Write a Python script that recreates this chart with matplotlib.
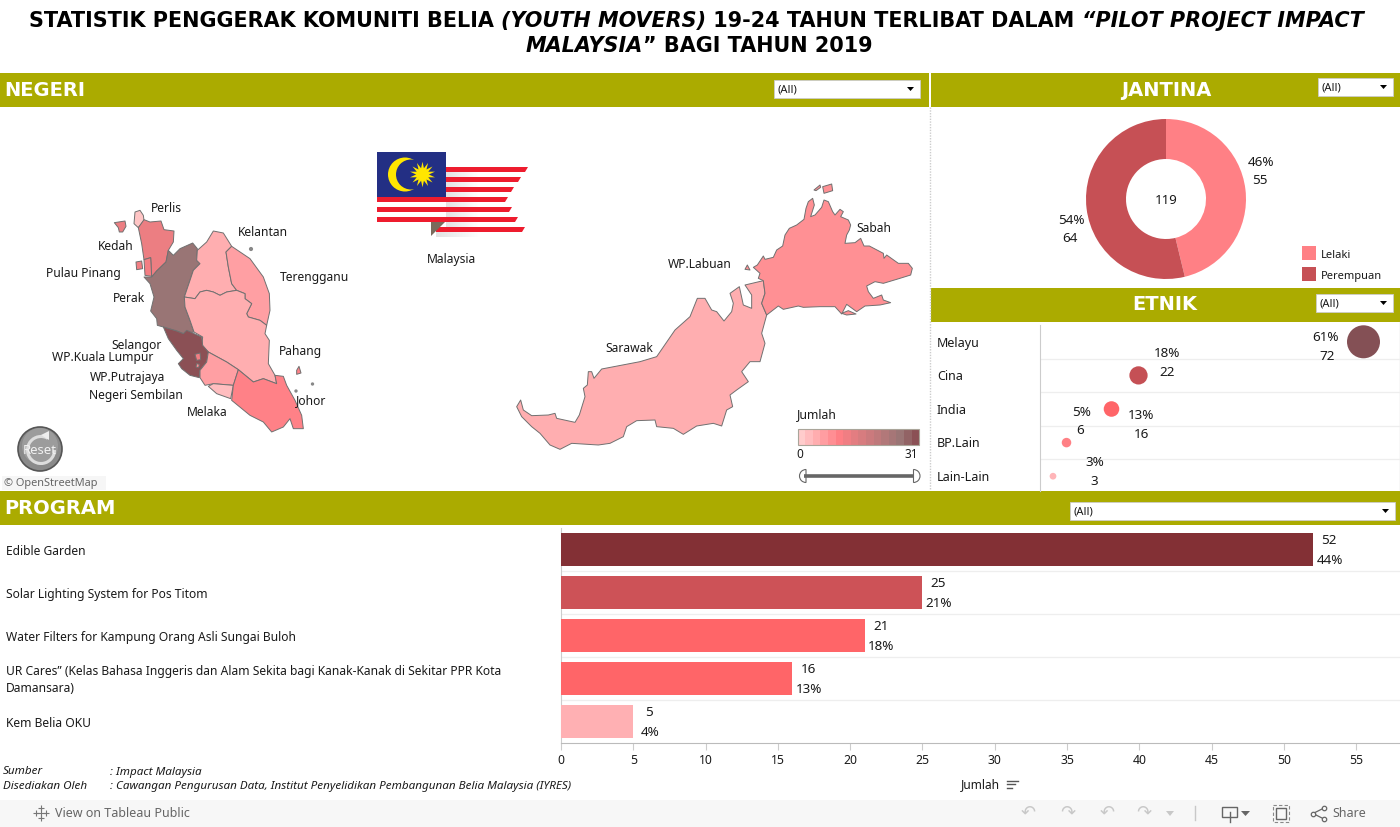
import numpy as np
import matplotlib
matplotlib.use('Agg')
import matplotlib.pyplot as plt
from matplotlib.colors import LinearSegmentedColormap
from matplotlib.patches import Rectangle, Polygon, Circle, Wedge, Arc

# --- data ---
PROGRAMS = ['Edible Garden', 'Solar Lighting System for Pos Titom',
            'Water Filters for Kampung Orang Asli Sungai Buloh',
            'UR Cares” (Kelas Bahasa Inggeris dan Alam Sekita bagi Kanak-Kanak di Sekitar PPR Kota\nDamansara)',
            'Kem Belia OKU']
PROGRAM_COUNTS = [52, 25, 21, 16, 5]
PROGRAM_PCT = ['44%', '21%', '18%', '13%', '4%']

ETHNIC = ['Melayu', 'Cina', 'India', 'BP.Lain', 'Lain-Lain']
ETHNIC_COUNTS = [72, 22, 16, 6, 3]
ETHNIC_PCT = ['61%', '18%', '13%', '5%', '3%']

GENDER = ['Lelaki', 'Perempuan']
GENDER_COUNTS = [55, 64]
GENDER_PCT = ['46%', '54%']

# state totals estimated from the map shading
STATE_VALUES = {'Perlis': 1, 'Kedah': 13, 'Pulau Pinang': 12, 'Perak': 27, 'Kelantan': 4,
                'Terengganu': 6, 'Pahang': 4, 'Selangor': 31, 'Kuala Lumpur': 12,
                'Putrajaya': 8, 'Negeri Sembilan': 6, 'Melaka': 2, 'Johor': 10,
                'Sabah': 8, 'Sarawak': 4}

PENINSULA = {
    'Perlis': [[(405, 315), (420, 310), (430, 325), (432, 340), (415, 362), (402, 350)]],
    'Kedah': [[(415, 362), (432, 338), (450, 345), (483, 342), (492, 368), (522, 372), (520, 405), (505, 430),
               (498, 465), (470, 492), (455, 510), (452, 452), (432, 458), (425, 410)],
              [(343, 347), (375, 342), (378, 358), (368, 375), (358, 375), (355, 362)]],
    'Pulau Pinang': [[(432, 458), (452, 452), (455, 508), (435, 505)],
                     [(408, 465), (425, 462), (428, 485), (410, 488)]],
    'Perak': [[(505, 430), (520, 445), (540, 425), (578, 408), (592, 425), (590, 460), (600, 470), (580, 490),
               (570, 520), (553, 570), (555, 600), (570, 640), (582, 675), (550, 680), (530, 672), (490, 660),
               (472, 655), (470, 635), (452, 612), (462, 570), (450, 530), (432, 510), (455, 510), (470, 492),
               (498, 465)]],
    'Kelantan': [[(592, 430), (620, 405), (640, 372), (670, 378), (695, 418), (678, 435), (685, 480), (695, 530),
                  (710, 550), (680, 555), (660, 565), (640, 555), (620, 550), (600, 555), (585, 575), (553, 570),
                  (570, 520), (580, 490), (600, 470), (590, 460)]],
    'Terengganu': [[(695, 418), (750, 455), (790, 510), (808, 560), (810, 610), (800, 655), (780, 640), (745, 630),
                    (740, 620), (755, 590), (735, 575), (735, 560), (710, 550), (695, 530), (685, 480), (678, 435)]],
    'Pahang': [[(553, 570), (585, 575), (600, 555), (620, 550), (640, 555), (660, 565), (680, 555), (710, 550),
                (735, 560), (735, 575), (755, 590), (740, 620), (745, 630), (780, 640), (800, 655), (795, 680),
                (808, 700), (805, 770), (825, 805), (830, 830), (790, 815), (760, 825), (715, 788), (680, 765),
                (625, 735), (605, 715), (608, 690), (582, 675), (570, 640), (555, 600)]],
    'Selangor': [[(490, 660), (530, 672), (550, 680), (560, 670), (605, 690), (608, 715), (625, 735), (620, 765),
                  (600, 790), (598, 812), (570, 805), (545, 785), (535, 770), (550, 755), (530, 730), (505, 695)]],
    'Kuala Lumpur': [[(585, 742), (600, 738), (602, 758), (590, 760)]],
    'Putrajaya': [[(590, 770), (598, 772), (596, 782), (588, 780)]],
    'Negeri Sembilan': [[(625, 735), (680, 765), (715, 788), (700, 835), (640, 830), (615, 835), (600, 812),
                         (600, 790), (620, 765)]],
    'Melaka': [[(625, 838), (640, 830), (700, 835), (692, 875), (650, 860)]],
    'Johor': [[(715, 788), (760, 825), (790, 815), (830, 830), (825, 805), (850, 808), (860, 835), (885, 880),
               (905, 925), (910, 965), (880, 965), (870, 935), (850, 960), (815, 975), (790, 945), (750, 925),
               (695, 880), (700, 835)],
              [(890, 790), (897, 778), (903, 798), (890, 802)]],
}
BORNEO = {
    'Sarawak': [[(50, 710), (62, 690), (70, 720), (95, 737), (145, 735), (165, 730), (170, 745), (225, 757),
                 (238, 735), (255, 680), (250, 655), (262, 645), (265, 605), (275, 605), (282, 625), (305, 597),
                 (420, 575), (470, 560), (525, 480), (570, 440), (592, 385), (615, 385), (635, 420), (650, 425),
                 (672, 453), (695, 425), (700, 400), (690, 370), (718, 350), (730, 405), (755, 415), (755, 375),
                 (735, 345), (790, 332), (795, 370), (785, 400), (800, 435), (785, 490), (795, 520), (780, 575),
                 (750, 575), (725, 605), (745, 635), (710, 660), (690, 675), (698, 710), (680, 720), (665, 768),
                 (640, 760), (590, 768), (550, 793), (520, 775), (470, 770), (465, 750), (410, 752), (380, 770),
                 (370, 800), (330, 820), (295, 825), (215, 820), (180, 838), (150, 825), (120, 790), (95, 770),
                 (65, 740)]],
    'Sabah': [[(760, 292), (772, 285), (790, 258), (795, 268), (820, 262), (830, 240), (848, 228), (855, 195),
               (868, 175), (890, 165), (912, 148), (918, 115), (925, 95), (938, 85), (943, 105), (932, 140),
               (945, 135), (965, 112), (972, 90), (985, 95), (998, 125), (1005, 135), (1020, 118), (1030, 125),
               (1022, 140), (1045, 150), (1052, 165), (1048, 180), (1040, 195), (1035, 220), (1065, 218),
               (1082, 205), (1092, 228), (1108, 228), (1150, 250), (1152, 265), (1160, 255), (1195, 280),
               (1225, 280), (1237, 295), (1232, 315), (1190, 328), (1150, 340), (1125, 335), (1100, 348),
               (1105, 365), (1120, 385), (1145, 375), (1150, 390), (1172, 398), (1140, 405), (1095, 408),
               (1070, 425), (1040, 403), (1025, 432), (1005, 410), (960, 410), (910, 412), (895, 408), (850, 418),
               (835, 408), (800, 435), (785, 400), (795, 370), (790, 332), (775, 325), (780, 310)],
              [(968, 50), (995, 42), (998, 62), (972, 70)], [(942, 60), (960, 45), (962, 52), (948, 62)],
              [(735, 298), (742, 285), (750, 300)], [(1025, 430), (1045, 422), (1068, 432), (1040, 435)]],
}

MAP_LABELS = [('Perlis', 166, 208), ('Kelantan', 263, 232), ('Kedah', 116, 245), ('Pulau Pinang', 83, 273),
              ('Terengganu', 315, 276), ('Perak', 129, 297), ('Selangor', 137, 344), ('WP.Kuala Lumpur', 103, 357),
              ('Pahang', 300, 351), ('WP.Putrajaya', 128, 376), ('Negeri Sembilan', 136, 394), ('Johor', 311, 400),
              ('Melaka', 207, 411), ('Sabah', 874, 227), ('WP.Labuan', 700, 264), ('Sarawak', 629, 347),
              ('Malaysia', 452, 258)]

# --- styles ---
plt.rcParams['font.family'] = ['Noto Sans', 'DejaVu Sans']
OLIVE = '#ABAB00'
BAR_COLORS = ['#833035', '#CD5257', '#FF6568', '#FF6568', '#FFB0B3']
DOT_COLORS = ['#845055', '#C55055', '#FF6568', '#FF8085', '#FFB5B8']
GENDER_COLORS = ['#FF8085', '#C65055']
map_cmap = LinearSegmentedColormap.from_list(
    'jumlah', [(0, '#FFCCCC'), (0.33, '#FF7F85'), (0.42, '#EC7E82'), (0.87, '#997575'), (1, '#8B5055')])
TXT = '#1a1a1a'
LS = 9.2

fig = plt.figure(figsize=(14, 8.27), dpi=100)

# whole-figure layer in image pixels, for bands, map and small furniture
pg = fig.add_axes([0, 0, 1, 1])
pg.set_xlim(0, 1400)
pg.set_ylim(827, 0)
pg.axis('off')


def band(x0, x1, y0, text, cx=None):
    pg.add_patch(Rectangle((x0, y0), x1 - x0, 34, fc=OLIVE, ec='none'))
    pg.text(x0 + 4 if cx is None else cx, y0 + 17, text, color='white', fontsize=14, fontweight='bold',
            family='DejaVu Sans', va='center', ha='left' if cx is None else 'center')


def dropdown(x0, x1, y0):
    pg.add_patch(Rectangle((x0, y0), x1 - x0, 18, fc='white', ec='#cccccc', lw=0.6))
    pg.text(x0 + 3, y0 + 10, '(All)', fontsize=8, color=TXT, va='center')
    pg.add_patch(Polygon([(x1 - 13, y0 + 7), (x1 - 6, y0 + 7), (x1 - 9.5, y0 + 11)], fc='black', ec='none'))


band(0, 929, 73, 'NEGERI')
band(931, 1400, 73, 'JANTINA', cx=1166)
band(931, 1400, 288, 'ETNIK', cx=1165)
band(0, 1400, 491, 'PROGRAM')
dropdown(774, 920, 80)
dropdown(1318, 1393, 78)
dropdown(1316, 1393, 294)
dropdown(1070, 1395, 502)
pg.plot([930, 930], [107, 490], color='#cccccc', lw=1, ls=(0, (1, 1)))
pg.plot([1399.5, 1399.5], [322, 490], color='#dddddd', lw=1)


def title_line(parts, y, cx):
    items = [pg.text(0, y, s, fontsize=14.95, fontweight='bold', family='DejaVu Sans', color='black',
                     style='italic' if it else 'normal', va='center') for s, it in parts]
    r = fig.canvas.get_renderer()
    widths = [t.get_window_extent(r).width for t in items]
    x = cx - sum(widths) / 2
    for t, w in zip(items, widths):
        t.set_x(x)
        x += w


title_line([('STATISTIK PENGGERAK KOMUNITI BELIA ', False), ('(YOUTH MOVERS)', True),
            (' 19-24 TAHUN TERLIBAT DALAM ', False), ('“PILOT PROJECT IMPACT', True)], 21, 696)
title_line([('MALAYSIA', True), ('” BAGI TAHUN 2019', False)], 46, 699)


# --- map ---
def draw_states(states, ox, oy):
    for name, shapes in states.items():
        col = map_cmap(STATE_VALUES[name] / 31)
        for pts in shapes:
            xy = [(ox + a / 3, oy + b / 3) for a, b in pts]
            pg.add_patch(Polygon(xy, closed=True, fc=col, ec='#707070', lw=0.7, joinstyle='round'))


draw_states(PENINSULA, 0, 107)
draw_states(BORNEO, 500, 170)
pg.scatter([251, 312.5, 296], [249, 384, 391], s=[4, 2, 2], color='#888888', zorder=3)
for name, x, y in MAP_LABELS:
    pg.text(x, y + 1, name, fontsize=LS - 0.5, color=TXT, ha='center', va='center', zorder=5)

# flag
FLAG_RED = '#EE1C2E'
stripe_y = [167, 177, 187, 197, 207, 217, 227]
stripe_r = [528, 521, 514, 508, 512, 518, 525]
stripe_l = [446, 446, 446, 377, 377, 377, 436]
pale = np.linspace(0, 1, 64).reshape(1, -1)
grey_fade = LinearSegmentedColormap.from_list('fade', ['#e2e2e2', '#ffffff'])
for y in [172, 182, 192, 202, 212, 222]:
    pg.imshow(pale, extent=(446, 478, y + 5, y), cmap=grey_fade, aspect='auto', zorder=1)
pg.imshow(pale, extent=(436, 480, 237, 232), cmap=grey_fade, aspect='auto', zorder=1)
pg.set_xlim(0, 1400)
pg.set_ylim(827, 0)
for y, r, l in zip(stripe_y, stripe_r, stripe_l):
    pg.add_patch(Polygon([(l, y), (r, y), (r - 3, y + 5), (l, y + 5)], fc=FLAG_RED, ec='none', zorder=2))
pg.add_patch(Rectangle((377, 152), 69, 45, fc='#232F84', ec='none', zorder=3))
pg.add_patch(Circle((405, 174.5), 17, fc='#FFE600', ec='none', zorder=4))
pg.add_patch(Circle((411, 174.5), 15, fc='#232F84', ec='none', zorder=4))
pg.scatter([422], [174], marker=(14, 1, 0), s=340, color='#FFE600', linewidths=0, zorder=5)
pg.add_patch(Polygon([(431, 222), (445, 222), (431, 236)], fc='#7A6B5C', ec='none', zorder=4))

# reset button and map credit
pg.add_patch(Circle((40, 449), 22, fc='#8a8a8a', ec='#555555', lw=1.2))
pg.add_patch(Circle((40, 446), 18, fc='#9c9c9c', ec='none'))
pg.add_patch(Arc((41, 450), 27, 27, theta1=0, theta2=300, color='#dddddd', lw=2.2))
pg.add_patch(Polygon([(41, 435), (49, 431), (49, 440)], fc='#eeeeee', ec='none'))
pg.text(39.5, 451, 'Reset', color='#f2f2f2', fontsize=9.5, ha='center', va='center')
pg.add_patch(Rectangle((2, 476), 104, 14, fc='#f6f6f6', ec='none'))
pg.text(4, 483.5, '© OpenStreetMap', color='#666666', fontsize=7.9, va='center')

# colour legend
pg.text(797, 414.5, 'Jumlah', fontsize=8.8, fontweight='bold', color=TXT, va='center')
for i, v in enumerate(np.linspace(0, 1, 16)):
    pg.add_patch(Rectangle((797.5 + i * 7.6, 429), 7.6, 15.5, fc=map_cmap(v), ec='none'))
pg.add_patch(Rectangle((797.5, 429), 121, 15.5, fc='none', ec='#aaa59a', lw=0.8))
pg.text(800, 455, '0', fontsize=8.5, color=TXT, ha='center', va='center')
pg.text(911, 455, '31', fontsize=8.5, color=TXT, ha='center', va='center')
pg.plot([804, 914], [476, 476], color='#666666', lw=2.6, solid_capstyle='butt')
pg.add_patch(Wedge((806, 476), 6.5, 90, 270, fc='white', ec='#666666', lw=0.8))
pg.add_patch(Wedge((913.5, 476), 6.5, -90, 90, fc='white', ec='#666666', lw=0.8))

# --- gender donut ---
ax_d = fig.add_axes([(1166 - 81) / 1400, 1 - (199 + 81) / 827, 162 / 1400, 162 / 827])
ax_d.pie(GENDER_COUNTS, colors=GENDER_COLORS, startangle=90, counterclock=False,
         radius=1, wedgeprops=dict(width=0.5, linewidth=0))
ax_d.set_xlim(-81 / 80, 81 / 80)
ax_d.set_ylim(-81 / 80, 81 / 80)
ax_d.text(0, -0.02, str(sum(GENDER_COUNTS)), ha='center', va='center', fontsize=LS + 0.3, color=TXT)
pg.text(1261, 162, GENDER_PCT[0], fontsize=LS + 0.5, color=TXT, ha='center', va='center')
pg.text(1260, 180.5, str(GENDER_COUNTS[0]), fontsize=LS + 0.5, color=TXT, ha='center', va='center')
pg.text(1071, 220, GENDER_PCT[1], fontsize=LS + 0.5, color=TXT, ha='center', va='center')
pg.text(1070, 238.5, str(GENDER_COUNTS[1]), fontsize=LS + 0.5, color=TXT, ha='center', va='center')
for label, col, y in zip(GENDER, GENDER_COLORS, [246, 267]):
    pg.add_patch(Rectangle((1302, y), 14, 14, fc=col, ec='none'))
    pg.text(1321, y + 9.5, label, fontsize=8, color=TXT, va='center')

# --- ethnic dot plot ---
ax_e = fig.add_axes([1039.5 / 1400, 1 - 493 / 827, 360 / 1400, 168 / 827])
ax_e.patch.set_alpha(0)
ax_e.set_xlim(0, 80)
ax_e.set_ylim(4.5, -0.5)
ax_e.scatter(ETHNIC_COUNTS, range(5), s=[v * 7.84 for v in ETHNIC_COUNTS], c=DOT_COLORS, linewidths=0, zorder=3)
for s in ['top', 'right', 'bottom']:
    ax_e.spines[s].set_visible(False)
ax_e.spines['left'].set_color('#cccccc')
ax_e.spines['left'].set_bounds(-0.5, 4.44)
ax_e.set_xticks([])
ax_e.set_yticks([])
for y in [0.5, 1.5, 2.5, 3.5]:
    ax_e.axhline(y, color='#eeeeee', lw=0.9, zorder=1)
label_x = (937 - 1039.5) / 360
for i, name in enumerate(ETHNIC):
    ax_e.annotate(name, (label_x, i), xycoords=ax_e.get_yaxis_transform(), xytext=(0, -1), textcoords='offset points',
                  fontsize=LS - 0.2, color=TXT, va='center', annotation_clip=False)
# label offsets in px: (pct dx, pct dy, count dx, count dy) from the dot
etnik_offsets = [(-38, -4, -36, 15), (29, -22, 29, -3), (30, 6, 30, 25), (15, -30, 14, -12), (42, -14, 41, 5)]
for i, (dx0, dy0, dx1, dy1) in enumerate(etnik_offsets):
    ax_e.annotate(ETHNIC_PCT[i], (ETHNIC_COUNTS[i], i), xytext=(dx0 * 0.72, -dy0 * 0.72), textcoords='offset points',
                  ha='center', va='center', fontsize=LS + 0.5, color=TXT, annotation_clip=False)
    ax_e.annotate(str(ETHNIC_COUNTS[i]), (ETHNIC_COUNTS[i], i), xytext=(dx1 * 0.72, -dy1 * 0.72),
                  textcoords='offset points', ha='center', va='center', fontsize=LS + 0.5, color=TXT,
                  annotation_clip=False)

# --- program bars ---
ax_b = fig.add_axes([561 / 1400, 1 - 743 / 827, 839 / 1400, 215 / 827])
ax_b.patch.set_alpha(0)
ax_b.barh(range(5), PROGRAM_COUNTS, height=33 / 43, color=BAR_COLORS, zorder=3)
ax_b.set_xlim(0, 58.03)
ax_b.set_ylim(4.5, -0.5)
ax_b.set_xticks(range(0, 60, 5))
ax_b.tick_params(axis='x', length=5, color='#cccccc', labelsize=LS - 0.4, labelcolor=TXT, pad=3, width=0.8)
ax_b.set_yticks([])
for s in ['top', 'right']:
    ax_b.spines[s].set_visible(False)
ax_b.spines['left'].set_color('#cccccc')
ax_b.spines['bottom'].set_color('#bbbbbb')
for y in [0.5, 1.5, 2.5, 3.5]:
    ax_b.axhline(y, color='#eeeeee', lw=0.9, zorder=1)
name_x = (6 - 561) / 839
for i, name in enumerate(PROGRAMS):
    ax_b.annotate(name, (name_x, i), xycoords=ax_b.get_yaxis_transform(), xytext=(0, -1.2), textcoords='offset points',
                  fontsize=LS - 0.5, color=TXT, va='center', annotation_clip=False, linespacing=1.35)
    ax_b.annotate(str(PROGRAM_COUNTS[i]), (PROGRAM_COUNTS[i], i), xytext=(11.5, 6.3), textcoords='offset points',
                  ha='center', va='center', fontsize=LS + 0.5, color=TXT)
    ax_b.annotate(PROGRAM_PCT[i], (PROGRAM_COUNTS[i], i), xytext=(12, -8), textcoords='offset points',
                  ha='center', va='center', fontsize=LS + 0.5, color=TXT)

# --- footer ---
pg.text(980, 785, 'Jumlah', fontsize=LS - 0.6, color=TXT, ha='center', va='center')
for i, w in enumerate([11, 8, 5]):
    pg.plot([1007, 1007 + w], [780.5 + i * 3.5] * 2, color='#555555', lw=1)
FOOT = {'fontsize': 8.4, 'style': 'italic', 'color': TXT, 'va': 'center'}
pg.text(3, 772, 'Sumber', **FOOT)
pg.text(110, 772, ': Impact Malaysia', **FOOT)
pg.text(3, 786.5, 'Disediakan Oleh', **FOOT)
pg.text(110, 786.5, ': Cawangan Pengurusan Data, Institut Penyelidikan Pembangunan Belia Malaysia (IYRES)', **FOOT)

# --- tableau toolbar ---
pg.add_patch(Rectangle((0, 800), 1400, 27, fc='#F7F7F7', ec='none'))
pg.text(55, 813.5, 'View on Tableau Public', fontsize=9, color='#666666', va='center')
for dx, dy, m in [(0, 0, 7), (-5, 0, 3), (5, 0, 3), (0, -5, 3), (0, 5, 3)]:
    pg.scatter([41 + dx], [813 + dy], marker='+', s=m * 6, color='#777777', linewidths=0.8)
for x, s in [(1028, '↶'), (1068, '↷'), (1107, '↶'), (1144, '↷')]:
    pg.text(x, 813, s, family='DejaVu Sans', fontsize=13, color='#c8c8c8', ha='center', va='center')
pg.add_patch(Polygon([(1166, 811), (1174, 811), (1170, 816)], fc='#c8c8c8', ec='none'))
pg.plot([1195, 1195], [806, 820], color='#c8c8c8', lw=1)
pg.add_patch(Rectangle((1222, 807), 15, 10, fc='none', ec='#666666', lw=1))
pg.plot([1229.5, 1229.5], [812, 822], color='#666666', lw=1)
pg.add_patch(Polygon([(1241, 811), (1250, 811), (1245.5, 816)], fc='#666666', ec='none'))
pg.add_patch(Rectangle((1276, 808), 10, 11, fc='none', ec='#666666', lw=1))
pg.add_patch(Rectangle((1273, 805), 16, 17, fc='none', ec='#888888', lw=0.8, ls=(0, (3, 2))))
pg.plot([1324, 1313, 1324], [808, 813.5, 819], color='#666666', lw=0.9, marker='o', ms=3.2, mfc='#F7F7F7', mew=0.9)
pg.text(1332, 813.5, 'Share', fontsize=9, color='#666666', va='center')

fig.savefig('out.png', dpi=100)
